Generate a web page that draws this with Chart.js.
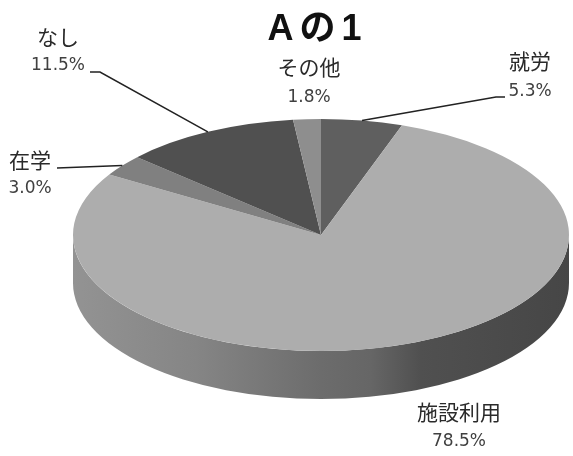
<!DOCTYPE html>
<html>
<head>
<meta charset="utf-8">
<style>
  html, body { margin: 0; padding: 0; background: #fff; }
  canvas { display: block; }
</style>
<script src="https://cdn.jsdelivr.net/npm/chart.js@4/dist/chart.umd.min.js"></script>
</head>
<body>
<canvas id="myChart" width="573" height="456"></canvas>
<script>
const categories = ["就労", "施設利用", "在学", "なし", "その他"];
const shares = [5.3, 78.5, 3.0, 11.5, 1.8];
const sliceColors = ["#5f5f5f", "#adadad", "#808080", "#505050", "#8e8e8e"];
const chartTitle = "Aの1";

// tilted disc: where the top ellipse sits and how thick the wall is
const disc = { cx: 321, cy: 235, rx: 248, ry: 116, depth: 48 };

// label anchors, same order as categories. leader = elbow points, null = no line
const labelSpots = [
  { x: 530, y: 61, py: 92, leader: [[505, 97], [496, 97]] },
  { x: 459, y: 412, py: 442, leader: null },
  { x: 30, y: 160, py: 189, leader: [[57, 168]] },
  { x: 58, y: 37, py: 66, leader: [[90, 72], [100, 72]] },
  { x: 309, y: 67, py: 98, leader: null }
];

function wallGradient(ctx) {
  const g = ctx.createLinearGradient(disc.cx - disc.rx, 0, disc.cx + disc.rx, 0);
  g.addColorStop(0, "#939393");
  g.addColorStop(0.25, "#858585");
  g.addColorStop(0.5, "#6c6c6c");
  g.addColorStop(0.6, "#666666");
  g.addColorStop(0.7, "#505050");
  g.addColorStop(1, "#464646");
  return g;
}

const tiltPlugin = {
  id: "tilt",
  beforeDraw(chart) {
    // the title glyphs are spaced wider than the font's default
    chart.ctx.letterSpacing = "6px";
  },
  beforeDatasetsDraw(chart) {
    const ctx = chart.ctx;
    ctx.letterSpacing = "0px";
    const arcs = chart.getDatasetMeta(0).data;
    // side wall only for the part of each slice facing the viewer
    ctx.save();
    ctx.fillStyle = wallGradient(ctx);
    arcs.forEach(arc => {
      const a0 = Math.max(arc.startAngle, 0);
      const a1 = Math.min(arc.endAngle, Math.PI);
      if (a1 <= a0) return;
      ctx.beginPath();
      ctx.ellipse(disc.cx, disc.cy, disc.rx, disc.ry, 0, a0, a1);
      ctx.ellipse(disc.cx, disc.cy + disc.depth, disc.rx, disc.ry, 0, a1, a0, true);
      ctx.closePath();
      ctx.fill();
    });
    ctx.restore();

    const el = arcs[0];
    ctx.save();
    ctx.translate(disc.cx, disc.cy);
    ctx.scale(disc.rx / el.outerRadius, disc.ry / el.outerRadius);
    ctx.translate(-el.x, -el.y);
  },
  afterDatasetsDraw(chart) {
    const ctx = chart.ctx;
    ctx.restore();

    const arcs = chart.getDatasetMeta(0).data;
    ctx.save();
    ctx.strokeStyle = "#222";
    ctx.lineWidth = 1.5;
    labelSpots.forEach((spot, i) => {
      if (!spot.leader) return;
      const mid = (arcs[i].startAngle + arcs[i].endAngle) / 2;
      ctx.beginPath();
      spot.leader.forEach((p, k) => k ? ctx.lineTo(p[0], p[1]) : ctx.moveTo(p[0], p[1]));
      ctx.lineTo(disc.cx + Math.cos(mid) * disc.rx, disc.cy + Math.sin(mid) * disc.ry);
      ctx.stroke();
    });
    ctx.textAlign = "center";
    ctx.textBaseline = "middle";
    categories.forEach((name, i) => {
      const spot = labelSpots[i];
      ctx.fillStyle = "#2a2a2a";
      ctx.font = '21px "Noto Sans CJK JP"';
      ctx.fillText(name, spot.x, spot.y);
      ctx.fillStyle = "#404040";
      ctx.font = '17px "DejaVu Sans"';
      ctx.fillText(shares[i].toFixed(1) + "%", spot.x, spot.py);
    });
    ctx.restore();
  }
};

new Chart(document.getElementById("myChart").getContext("2d"), {
  type: "pie",
  data: {
    labels: categories,
    datasets: [{
      data: shares,
      backgroundColor: sliceColors,
      borderWidth: 0,
      clip: false
    }]
  },
  options: {
    responsive: false,
    animation: false,
    layout: { padding: { left: 62 } },
    plugins: {
      legend: { display: false },
      tooltip: { enabled: false },
      title: {
        display: true,
        fullSize: false,
        text: chartTitle,
        color: "#111",
        font: { family: '"Liberation Sans", "Noto Sans CJK JP"', size: 36, weight: "bold" },
        padding: { top: 8, bottom: 0 }
      }
    }
  },
  plugins: [tiltPlugin]
});
</script>
</body>
</html>
